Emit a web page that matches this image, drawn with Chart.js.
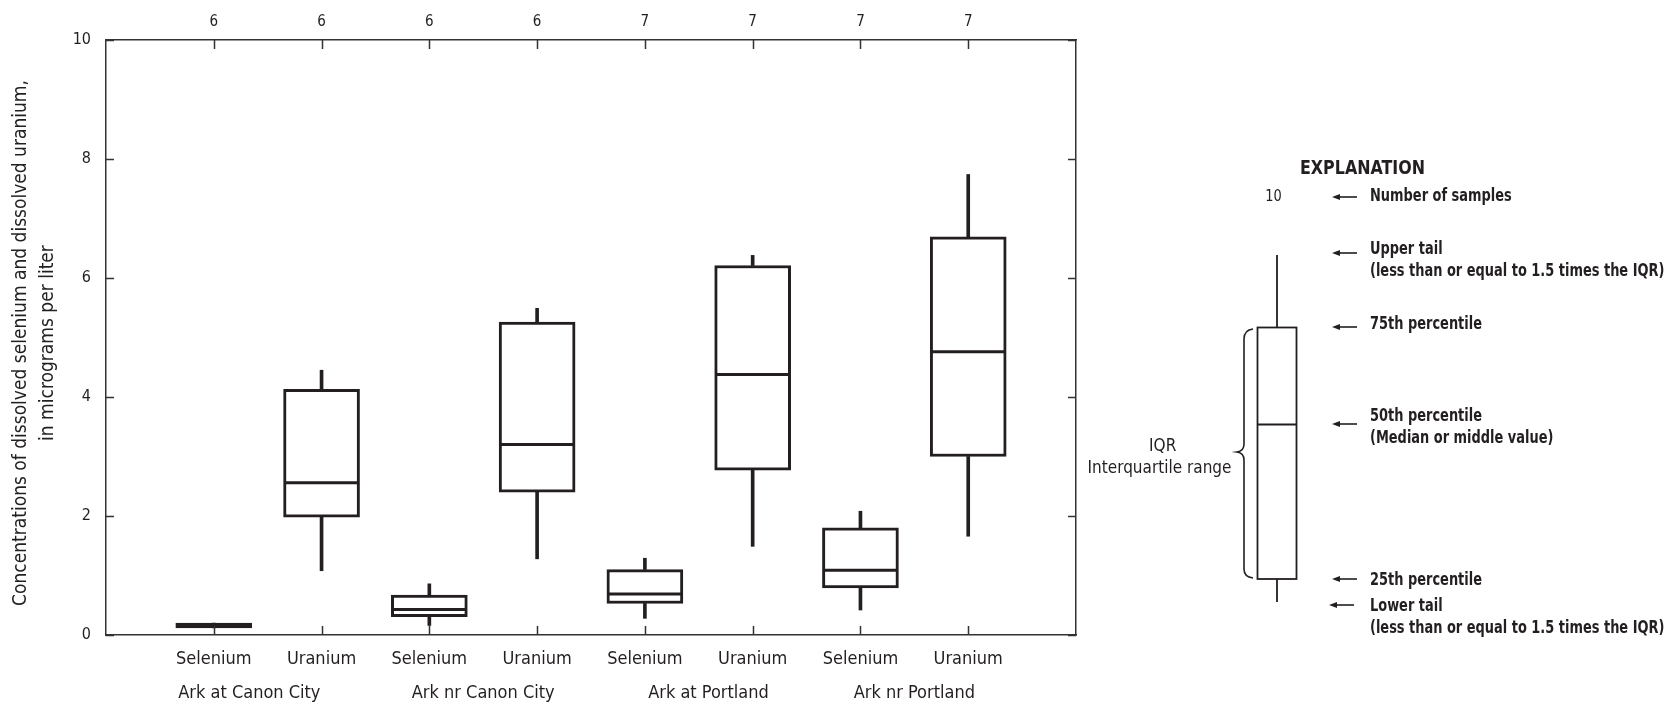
<!DOCTYPE html>
<html><head><meta charset="utf-8">
<script src="https://cdn.jsdelivr.net/npm/chart.js@4/dist/chart.umd.min.js"></script>
<style>html,body{margin:0;padding:0;background:#fff;}</style>
</head><body>
<canvas id="c" width="1675" height="711" style="width:1675px;height:711px;display:block"></canvas>
<script>
// ---- data ----
const elements = ['Selenium','Uranium','Selenium','Uranium','Selenium','Uranium','Selenium','Uranium'];
const sites = ['Ark at Canon City','Ark nr Canon City','Ark at Portland','Ark nr Portland'];
const sampleCounts = [6,6,6,6,7,7,7,7];
const lowerTail = [0.12,1.08,0.16,1.28,0.28,1.49,0.42,1.66];
const q1        = [0.12,1.98,0.31,2.40,0.53,2.77,0.79,3.00];
const medians   = [0.15,2.56,0.43,3.20,0.69,4.38,1.09,4.76];
const q3        = [0.20,4.13,0.67,5.26,1.10,6.21,1.80,6.69];
const upperTail = [0.20,4.45,0.86,5.49,1.29,6.38,2.08,7.74];
const yTicks = [0,2,4,6,8,10];
const yTitleLines = ['Concentrations of dissolved selenium and dissolved uranium,', 'in micrograms per liter'];

const positions = elements.map((_, i) => i + 1);
// small horizontal nudges of the site labels, as in the original layout
const siteLabelNudge = [-0.17, 0, 0.09, 0];
const sitePositions = sites.map((_, i) => 2 * i + 1.5 + siteLabelNudge[i]);

const FONT = "'DejaVu Sans Condensed','Liberation Sans Narrow',sans-serif";
const INK = '#231f20';

const boxData = positions.map((x, i) => ({x, y: [q1[i], q3[i]]}));
const lowData = positions.map((x, i) => ({x, y: [lowerTail[i], q1[i]]}));
const highData = positions.map((x, i) => ({x, y: [q3[i], upperTail[i]]}));
const medData = positions.map((x, i) => ({x, y: medians[i]}));

const innerTicks = {
  id: 'innerTicks',
  afterDatasetsDraw(chart) {
    const {ctx, chartArea: a, scales: {x, y}} = chart;
    ctx.save();
    ctx.strokeStyle = '#333';
    ctx.lineWidth = 1.5;
    ctx.beginPath();
    positions.forEach(p => {
      const px = Math.round(x.getPixelForValue(p)) + 0.5;
      ctx.moveTo(px, a.bottom); ctx.lineTo(px, a.bottom - 9);
      ctx.moveTo(px, a.top); ctx.lineTo(px, a.top + 9);
    });
    yTicks.forEach(v => {
      const py = Math.round(y.getPixelForValue(v)) + 0.5;
      ctx.moveTo(a.left, py); ctx.lineTo(a.left + 8, py);
      ctx.moveTo(a.right, py); ctx.lineTo(a.right - 8, py);
    });
    ctx.stroke();
    ctx.restore();
  }
};

const yTitle = {
  id: 'yTitle',
  afterDraw(chart) {
    const ctx = chart.ctx;
    ctx.save();
    ctx.fillStyle = INK;
    ctx.font = '19px ' + FONT;
    ctx.textAlign = 'center';
    ctx.textBaseline = 'middle';
    [[21.5, yTitleLines[0]], [48, yTitleLines[1]]].forEach(([cx, t]) => {
      ctx.save();
      ctx.translate(cx, 343);
      ctx.rotate(-Math.PI / 2);
      ctx.fillText(t, 0, 0);
      ctx.restore();
    });
    ctx.restore();
  }
};

function arrow(ctx, x, y, len) {
  ctx.beginPath();
  ctx.moveTo(x + 5, y); ctx.lineTo(x + len, y); ctx.stroke();
  ctx.beginPath();
  ctx.moveTo(x, y); ctx.lineTo(x + 8, y - 3); ctx.lineTo(x + 8, y + 3); ctx.closePath(); ctx.fill();
}
function sText(ctx, t, x, y, sx, align) {
  ctx.save();
  ctx.translate(x, y);
  ctx.scale(sx, 1);
  ctx.textAlign = align;
  ctx.fillText(t, 0, 0);
  ctx.restore();
}

const explanation = {
  id: 'explanation',
  afterDraw(chart) {
    const ctx = chart.ctx;
    ctx.save();
    ctx.fillStyle = INK; ctx.strokeStyle = INK;
    ctx.textBaseline = 'middle';
    ctx.font = 'bold 19px ' + FONT;
    sText(ctx, 'EXPLANATION', 1300, 169, 0.93, 'left');
    ctx.font = '16px ' + FONT;
    sText(ctx, '10', 1273.5, 197, 0.9, 'center');
    ctx.font = 'bold 18px ' + FONT;
    const tx = 1370;
    const lines = [
      ['Number of samples', 196], ['Upper tail', 249], ['(less than or equal to 1.5 times the IQR)', 271.5],
      ['75th percentile', 324], ['50th percentile', 416], ['(Median or middle value)', 438],
      ['25th percentile', 580], ['Lower tail', 606], ['(less than or equal to 1.5 times the IQR)', 628]
    ];
    lines.forEach(([t, yy]) => sText(ctx, t, tx, yy, 0.8, 'left'));
    ctx.lineWidth = 1.6;
    [[1332,197],[1332,253],[1332,327],[1332,424],[1332,579],[1329,605]].forEach(([ax, ay]) => arrow(ctx, ax, ay, 25));
    // sample box
    ctx.lineWidth = 1.8;
    ctx.strokeRect(1257.5, 327.5, 39, 251.5);
    ctx.beginPath();
    ctx.moveTo(1257.5, 424.5); ctx.lineTo(1296.5, 424.5);
    ctx.moveTo(1277, 255); ctx.lineTo(1277, 327.5);
    ctx.moveTo(1277, 579); ctx.lineTo(1277, 602);
    ctx.stroke();
    // brace
    ctx.lineWidth = 1.6;
    ctx.beginPath();
    ctx.moveTo(1253, 329);
    ctx.quadraticCurveTo(1244, 330, 1244, 339);
    ctx.lineTo(1244, 444);
    ctx.quadraticCurveTo(1244, 451, 1237, 452);
    ctx.quadraticCurveTo(1244, 453, 1244, 460);
    ctx.lineTo(1244, 569);
    ctx.quadraticCurveTo(1244, 577, 1253, 578);
    ctx.stroke();
    ctx.font = '17px ' + FONT;
    sText(ctx, 'IQR', 1162.7, 447, 1, 'center');
    sText(ctx, 'Interquartile range', 1159.5, 469, 1, 'center');
    ctx.restore();
  }
};

const xRange = {type: 'linear', min: 0, max: 9, offset: false};
const noGrid = {display: false, drawTicks: false};
const axisBorder = {display: true, color: '#333', width: 1.5};

new Chart(document.getElementById('c'), {
  type: 'bar',
  data: {
    datasets: [
      {type: 'scatter', data: medData, pointStyle: 'line', pointRadius: 37, pointHoverRadius: 37,
       pointBorderWidth: 3, borderColor: INK, backgroundColor: INK, order: 0, showLine: false},
      {data: boxData, backgroundColor: '#fff', borderColor: INK, borderWidth: 3, borderSkipped: false,
       barThickness: 76, grouped: false, order: 1},
      {data: lowData, backgroundColor: INK, borderWidth: 0, barThickness: 3, grouped: false, order: 2},
      {data: highData, backgroundColor: INK, borderWidth: 0, barThickness: 3, grouped: false, order: 2}
    ]
  },
  options: {
    responsive: false,
    animation: false,
    devicePixelRatio: 1,
    layout: {padding: {left: 4, right: 599, top: 0, bottom: 4}},
    plugins: {legend: {display: false}, tooltip: {enabled: false}},
    scales: {
      x: Object.assign({}, xRange, {
        position: 'bottom', weight: 0,
        grid: noGrid, border: axisBorder,
        afterBuildTicks: s => { s.ticks = positions.map(v => ({value: v})); },
        afterFit: s => { s.height = 36; },
        ticks: {color: INK, font: {family: FONT, size: 18}, padding: 14, autoSkip: false, maxRotation: 0,
                callback: (v) => elements[Math.round(v) - 1] || ''}
      }),
      xg: Object.assign({}, xRange, {
        position: 'bottom', weight: 1,
        grid: noGrid, border: {display: false},
        afterBuildTicks: s => { s.ticks = sitePositions.map(v => ({value: v})); },
        afterFit: s => { s.height = 36; },
        ticks: {color: INK, font: {family: FONT, size: 18}, padding: 12, autoSkip: false, maxRotation: 0,
                callback: (v, i) => sites[i] || ''}
      }),
      xTop: Object.assign({}, xRange, {
        position: 'top',
        grid: noGrid, border: axisBorder,
        afterBuildTicks: s => { s.ticks = positions.map(v => ({value: v})); },
        afterFit: s => { s.height = 37; },
        ticks: {color: INK, font: {family: FONT, size: 15}, padding: 9, autoSkip: false, maxRotation: 0,
                callback: (v) => String(sampleCounts[Math.round(v) - 1] ?? '')}
      }),
      y: {
        type: 'linear', position: 'left', min: 0, max: 10,
        grid: noGrid, border: axisBorder,
        afterBuildTicks: s => { s.ticks = yTicks.map(v => ({value: v})); },
        afterFit: s => { s.width = 102; },
        ticks: {color: INK, font: {family: FONT, size: 16}, padding: 15},
        title: {display: false}
      },
      y2: {
        type: 'linear', position: 'right', min: 0, max: 10,
        grid: noGrid, border: axisBorder,
        afterFit: s => { s.width = 0; },
        ticks: {display: false}
      }
    }
  },
  plugins: [innerTicks, yTitle, explanation]
});
</script>
</body></html>
